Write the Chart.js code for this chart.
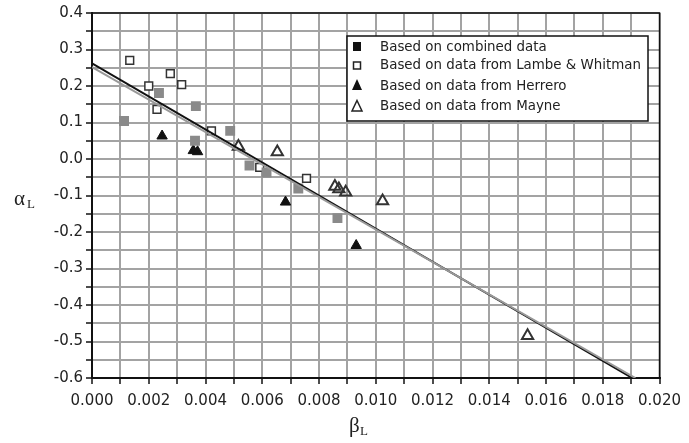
<!DOCTYPE html>
<html><head><meta charset="utf-8">
<script src="https://cdn.jsdelivr.net/npm/chart.js@4"></script>
<style>html,body{margin:0;padding:0;background:#fff}#wrap{width:689px;height:443px;position:relative}</style>
</head><body><div id="wrap"><canvas id="c" width="689" height="443"></canvas></div>
<script>
// ---- data ----
const combinedX = [0.00113, 0.00236, 0.00366, 0.00363, 0.00487, 0.00555, 0.00615, 0.00727, 0.00865];
const combinedY = [0.104, 0.181, 0.145, 0.050, 0.077, -0.018, -0.037, -0.081, -0.162];
const lambeX = [0.00133, 0.00276, 0.00200, 0.00316, 0.00229, 0.00421, 0.00591, 0.00756];
const lambeY = [0.270, 0.234, 0.200, 0.204, 0.136, 0.077, -0.023, -0.053];
const herreroX = [0.00247, 0.00357, 0.00372, 0.00682, 0.00931];
const herreroY = [0.063, 0.023, 0.020, -0.118, -0.237];
const mayneX = [0.00516, 0.00653, 0.00856, 0.00870, 0.00894, 0.01024, 0.01535];
const mayneY = [0.034, 0.019, -0.075, -0.082, -0.091, -0.115, -0.484];
const fitBlackX = [0.0, 0.01904];
const fitBlackY = [0.262, -0.600];
const fitGrayX = [0.0, 0.01915];
const fitGrayY = [0.252, -0.600];
const xTickLabels = ['0.000','0.002','0.004','0.006','0.008','0.010','0.012','0.014','0.016','0.018','0.020'];
const yTickLabels = ['0.4','0.3','0.2','0.1','0.0','-0.1','-0.2','-0.3','-0.4','-0.5','-0.6'];
const legendLabels = ['Based on combined data','Based on data from Lambe & Whitman','Based on data from Herrero','Based on data from Mayne'];

const pts = (xs, ys) => xs.map((x, i) => ({x, y: ys[i]}));

const decor = {
  id: 'decor',
  afterDatasetsDraw(chart) {
    const {ctx, chartArea: a} = chart;
    ctx.save();
    ctx.strokeStyle = '#111';
    ctx.lineWidth = 1.5;
    ctx.beginPath();
    ctx.moveTo(a.left, a.top); ctx.lineTo(a.right, a.top); ctx.lineTo(a.right, a.bottom);
    ctx.stroke();
    ctx.restore();
  },
  afterDraw(chart) {
    const {ctx} = chart;
    ctx.save();
    // legend box
    const bx = 347, by = 36, bw = 301, bh = 85;
    ctx.fillStyle = '#fff';
    ctx.fillRect(bx, by, bw, bh);
    ctx.strokeStyle = '#111';
    ctx.lineWidth = 1.5;
    ctx.strokeRect(bx, by, bw, bh);
    const rows = [48, 66, 87, 107];
    ctx.font = '13.4px "DejaVu Sans"';
    ctx.fillStyle = '#222';
    ctx.textBaseline = 'middle';
    ctx.textAlign = 'left';
    legendLabels.forEach((t, i) => ctx.fillText(t, 380, rows[i]));
    const mx = 357;
    // black square
    ctx.fillStyle = '#111';
    ctx.fillRect(mx - 4, 42, 8, 9);
    // open square
    ctx.strokeStyle = '#222'; ctx.lineWidth = 1.5;
    ctx.strokeRect(mx - 3.5, 62, 7, 7);
    // black triangle
    ctx.beginPath(); ctx.moveTo(mx, 79); ctx.lineTo(mx + 5, 90); ctx.lineTo(mx - 5, 90); ctx.closePath(); ctx.fill();
    // open triangle
    ctx.beginPath(); ctx.moveTo(mx, 100.5); ctx.lineTo(mx + 5, 111); ctx.lineTo(mx - 5, 111); ctx.closePath(); ctx.stroke();
    // axis titles
    ctx.fillStyle = '#222';
    ctx.textBaseline = 'alphabetic';
    ctx.font = '21px "Liberation Serif"';
    ctx.fillText('α', 14, 205);
    ctx.font = '13px "Liberation Serif"';
    ctx.fillText('L', 27, 208);
    ctx.font = '21px "Liberation Serif"';
    ctx.fillText('β', 349, 432);
    ctx.font = '13px "Liberation Serif"';
    ctx.fillText('L', 360, 435);
    ctx.restore();
  }
};

new Chart(document.getElementById('c'), {
  type: 'scatter',
  data: {
    datasets: [
      {label: 'fitGray', type: 'line', data: pts(fitGrayX, fitGrayY), borderColor: '#999', borderWidth: 2, pointRadius: 0, fill: false},
      {label: 'fitBlack', type: 'line', data: pts(fitBlackX, fitBlackY), borderColor: '#111', borderWidth: 2, pointRadius: 0, fill: false},
      {label: legendLabels[0], data: pts(combinedX, combinedY), pointStyle: 'rect', pointRadius: 7, backgroundColor: '#8a8a8a', borderColor: '#8a8a8a', borderWidth: 0},
      {label: legendLabels[1], data: pts(lambeX, lambeY), pointStyle: 'rect', pointRadius: 5.5, backgroundColor: '#fff', borderColor: '#333', borderWidth: 1.5},
      {label: legendLabels[2], data: pts(herreroX, herreroY), pointStyle: 'triangle', pointRadius: 6, backgroundColor: '#111', borderColor: '#111', borderWidth: 1},
      {label: legendLabels[3], data: pts(mayneX, mayneY), pointStyle: 'triangle', pointRadius: 6.5, backgroundColor: 'rgba(255,255,255,0)', borderColor: '#333', borderWidth: 2}
    ]
  },
  options: {
    responsive: false,
    animation: false,
    devicePixelRatio: 1,
    layout: {padding: {left: 0, right: 22, top: 13, bottom: 0}},
    plugins: {legend: {display: false}, tooltip: {enabled: false}},
    scales: {
      x: {
        type: 'linear', min: 0, max: 0.02,
        afterFit(s) { s.height = 65; },
        ticks: {
          stepSize: 0.001, autoSkip: false, maxRotation: 0, padding: 8,
          color: '#222', font: {family: 'DejaVu Sans', size: 15},
          callback(v) { const s = v.toFixed(3); return xTickLabels.includes(s) ? s : ''; }
        },
        grid: {color: '#a3a3a3', lineWidth: 2, tickColor: '#111', tickLength: 6, tickWidth: 1.5},
        border: {color: '#111', width: 2}
      },
      y: {
        type: 'linear', min: -0.6, max: 0.4,
        afterFit(s) { s.width = 92; },
        ticks: {
          stepSize: 0.05, autoSkip: false, padding: 3,
          color: '#222', font: {family: 'DejaVu Sans', size: 15},
          callback(v) { let r = Math.round(v * 100) / 100; if (Math.abs(r) < 1e-9) r = 0; const s = r.toFixed(1); return (Math.abs(r * 10 - Math.round(r * 10)) < 1e-6 && yTickLabels.includes(s)) ? s : ''; }
        },
        grid: {color: '#a3a3a3', lineWidth: 2, tickColor: '#111', tickLength: 6, tickWidth: 1.5},
        border: {color: '#111', width: 2}
      }
    }
  },
  plugins: [decor]
});
</script>
</body></html>
